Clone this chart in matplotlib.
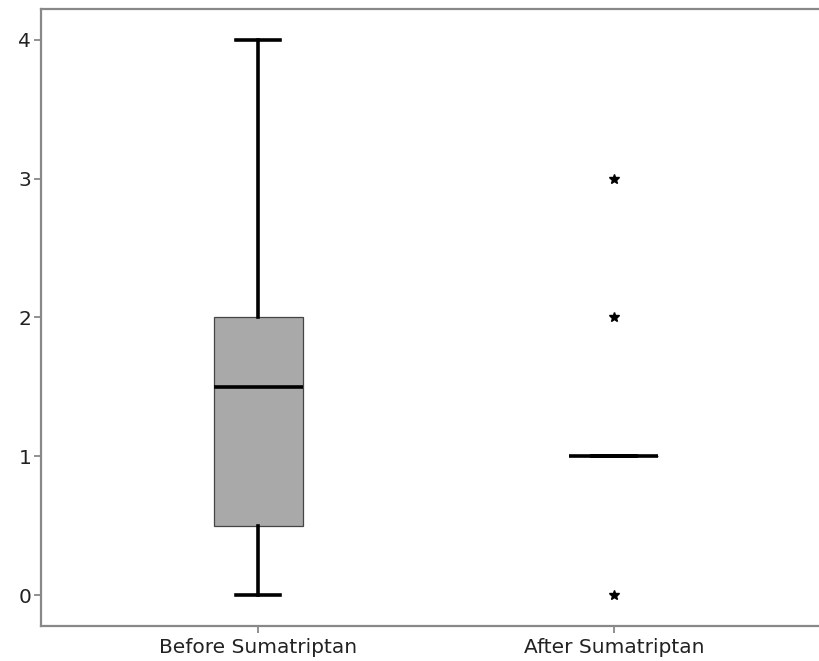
import matplotlib
matplotlib.use("Agg")
import matplotlib.pyplot as plt

labels = ["Before Sumatriptan", "After Sumatriptan"]
whislo = [0, 1]
q1 = [0.5, 1]
med = [1.5, 1]
q3 = [2, 1]
whishi = [4, 1]
fliers = [[], [0, 2, 3]]

stats = []
for i in range(2):
	stats.append(dict(label=labels[i], whislo=whislo[i], q1=q1[i], med=med[i],
		q3=q3[i], whishi=whishi[i], fliers=fliers[i]))

fig = plt.figure(figsize=(8.2, 6.61), dpi=100)
ax = fig.add_axes([0.05, 0.053, 0.95, 0.9335])

ax.bxp(stats, positions=[1, 2], widths=0.25, patch_artist=True, showfliers=True,
	boxprops=dict(facecolor="#a9a9a9", edgecolor="#444444", linewidth=0.9),
	medianprops=dict(color="black", linewidth=2.6, solid_capstyle="butt", zorder=5),
	whiskerprops=dict(color="black", linewidth=2.6),
	capprops=dict(color="black", linewidth=2.6),
	capwidths=0.125,
	flierprops=dict(marker="*", markerfacecolor="black", markeredgecolor="black",
		markersize=7.5, linestyle="none"))

ax.set_xlim(0.3904, 2.5787)
ax.set_ylim(-0.223, 4.223)
ax.set_yticks([0, 1, 2, 3, 4])
ax.set_xticks([1, 2])
ax.set_xticklabels(labels)

for s in ["left", "top", "bottom"]:
	ax.spines[s].set_color("#888888")
	ax.spines[s].set_linewidth(1.6)
ax.spines["right"].set_visible(False)
ax.tick_params(axis="both", colors="#888888", length=5, width=1.3, labelcolor="#222222", labelsize=14.5)
ax.tick_params(axis="y", pad=2)
ax.tick_params(axis="x", pad=4)

plt.savefig("out.png", dpi=100)
